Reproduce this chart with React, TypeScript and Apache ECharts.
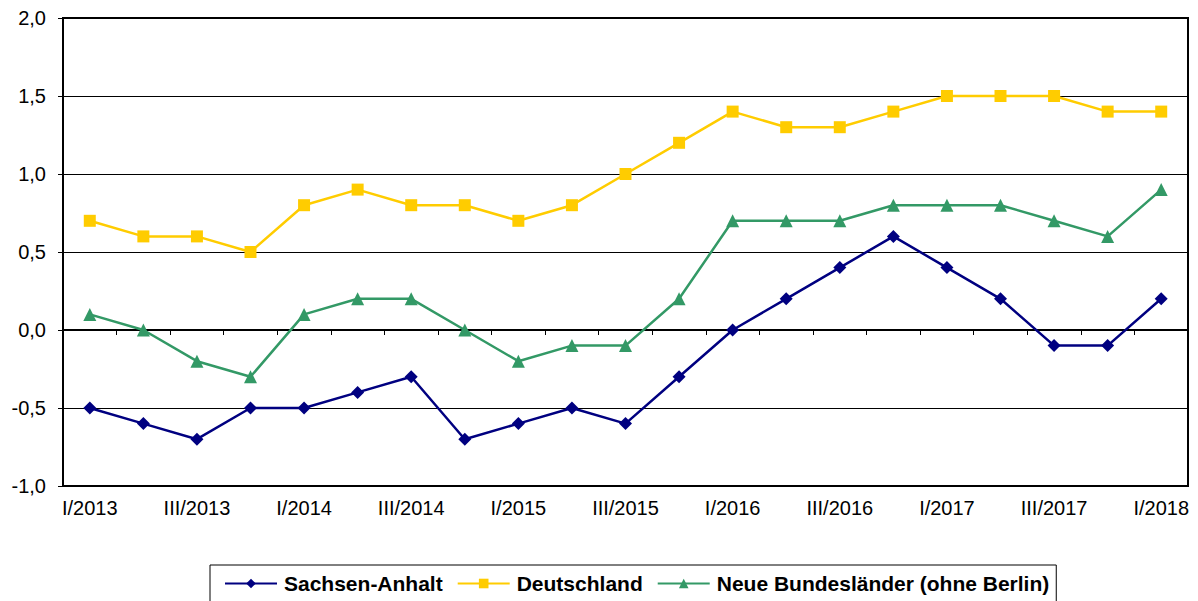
import React, { useEffect, useRef } from "react";
import * as echarts from "echarts";

const categories = [
  "I/2013", "II/2013", "III/2013", "IV/2013",
  "I/2014", "II/2014", "III/2014", "IV/2014",
  "I/2015", "II/2015", "III/2015", "IV/2015",
  "I/2016", "II/2016", "III/2016", "IV/2016",
  "I/2017", "II/2017", "III/2017", "IV/2017",
  "I/2018",
];

const sachsenAnhalt = [-0.5, -0.6, -0.7, -0.5, -0.5, -0.4, -0.3, -0.7, -0.6, -0.5, -0.6, -0.3, 0.0, 0.2, 0.4, 0.6, 0.4, 0.2, -0.1, -0.1, 0.2];
const deutschland = [0.7, 0.6, 0.6, 0.5, 0.8, 0.9, 0.8, 0.8, 0.7, 0.8, 1.0, 1.2, 1.4, 1.3, 1.3, 1.4, 1.5, 1.5, 1.5, 1.4, 1.4];
const neueBL = [0.1, 0.0, -0.2, -0.3, 0.1, 0.2, 0.2, 0.0, -0.2, -0.1, -0.1, 0.2, 0.7, 0.7, 0.7, 0.8, 0.8, 0.8, 0.7, 0.6, 0.9];

const seriesNames = ["Sachsen-Anhalt", "Deutschland", "Neue Bundesländer (ohne Berlin)"];

const FONT = "Arial, 'Liberation Sans', sans-serif";

export default function App() {
  const ref = useRef<HTMLDivElement>(null);
  useEffect(() => {
    if (!ref.current) return;
    const chart = echarts.init(ref.current, null, { renderer: "svg" });
    chart.setOption({
      animation: false,
      backgroundColor: "#fff",
      grid: {
        left: 63,
        right: 10,
        top: 18,
        bottom: 115,
        show: true,
        borderColor: "#000",
        borderWidth: 2,
        containLabel: false,
      },
      legend: {
        left: 210,
        top: 565,
        padding: [8, 7, 14, 14],
        borderColor: "#000",
        borderWidth: 1,
        itemWidth: 52,
        itemHeight: 12,
        itemGap: 14,
        textStyle: { fontFamily: FONT, fontSize: 21, fontWeight: "bold", color: "#000", padding: [0, 0, 0, 2] },
        data: seriesNames,
      },
      xAxis: {
        type: "category",
        data: categories,
        boundaryGap: true,
        axisLine: { lineStyle: { color: "#000", width: 2 } },
        axisTick: { show: true, interval: 0, length: 5, lineStyle: { color: "#000", width: 1 } },
        axisLabel: { interval: 1, fontFamily: FONT, fontSize: 20, color: "#000", margin: 12 },
        splitLine: { show: false },
      },
      yAxis: {
        type: "value",
        min: -1,
        max: 2,
        interval: 0.5,
        axisLine: { show: true, lineStyle: { color: "#000", width: 2 } },
        axisTick: { show: true, length: 5, lineStyle: { color: "#000", width: 1 } },
        axisLabel: {
          fontFamily: FONT,
          fontSize: 20,
          color: "#000",
          margin: 17,
          formatter: (v: number) => v.toFixed(1).replace(".", ","),
        },
        splitLine: { show: true, lineStyle: { color: "#000", width: 1 } },
      },
      series: [
        {
          name: seriesNames[0],
          type: "line",
          data: sachsenAnhalt,
          symbol: "diamond",
          symbolSize: 13,
          lineStyle: { color: "#000080", width: 2.5 },
          itemStyle: { color: "#000080" },
          z: 3,
        },
        {
          name: seriesNames[1],
          type: "line",
          data: deutschland,
          symbol: "rect",
          symbolSize: 12,
          lineStyle: { color: "#FFCC00", width: 2.5 },
          itemStyle: { color: "#FFCC00" },
          z: 2,
        },
        {
          name: seriesNames[2],
          type: "line",
          data: neueBL,
          symbol: "triangle",
          symbolSize: 13,
          lineStyle: { color: "#339966", width: 2.5 },
          itemStyle: { color: "#339966" },
          z: 2,
        },
      ],
    });
    return () => chart.dispose();
  }, []);
  return (
    <div
      ref={ref}
      style={{ position: "fixed", left: 0, top: 0, width: 1198, height: 601, background: "#fff" }}
    />
  );
}
